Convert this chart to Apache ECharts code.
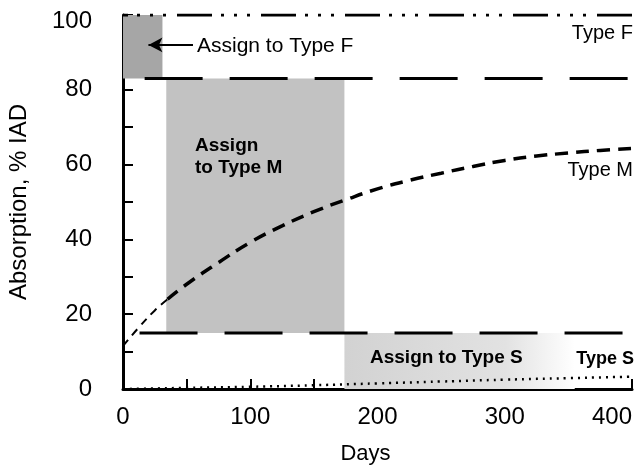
<!DOCTYPE html>
<html>
<head>
<meta charset="utf-8">
<script src="https://cdn.jsdelivr.net/npm/echarts@6/dist/echarts.min.js"></script>
<style>
    html, body { margin: 0; padding: 0; background: #ffffff; }
    #chart { width: 637px; height: 467px; }
</style>
</head>
<body>
<div id="chart"></div>
<script>
// values
var xTicks = [0, 100, 200, 300, 400];
var yTicks = [0, 20, 40, 60, 80, 100];

var typeMDays = [0, 12, 25, 35, 50, 75, 100, 125, 150, 175, 200, 225, 250, 275, 300, 325, 350, 375, 400];
var typeMValues = [11.5, 16.3, 21, 24, 28, 33.8, 39.2, 43.6, 47.4, 50.6, 53.5, 55.8, 57.7, 59.5, 61.1, 62.3, 63.1, 63.8, 64.3];
var typeMThinEnd = 35;

var typeSDays = [0, 50, 100, 150, 200, 250, 300, 350, 400];
var typeSValues = [0, 0.3, 0.6, 1.0, 1.5, 2.0, 2.5, 2.9, 3.3];

var typeFLevel = 100;
var upperBoundary = 83;
var upperBoundaryStart = 17;
var lowerBoundary = 15;
var lowerBoundaryStart = 13;

// shaded "assign to" zones: [x0, x1, y0, y1]
var zoneF = [0, 31, 83, 100];
var zoneM = [34, 174, 15, 83];
var zoneS = [174, 355, 0, 15];

var arrowFrom = [55, 92];
var arrowTo = [20, 92];

(function () {
    'use strict';

    var FONT = '"Liberation Sans", Arial, Helvetica, sans-serif';
    var chart = echarts.init(document.getElementById('chart'), null, { renderer: 'canvas' });

    function pairs(xs, ys, filter) {
        var out = [];
        for (var i = 0; i < xs.length; i++) {
            if (!filter || filter(xs[i])) {
                out.push([xs[i], ys[i]]);
            }
        }
        return out;
    }

    function area(zone, color) {
        return [
            { xAxis: zone[0], yAxis: zone[2], itemStyle: { color: color } },
            { xAxis: zone[1], yAxis: zone[3] }
        ];
    }

    function text(x, y, str, align, bold, size) {
        return {
            type: 'text',
            x: x,
            y: y,
            z: 100,
            style: {
                text: str,
                font: (bold ? 'bold ' : '') + size + 'px ' + FONT,
                fill: '#000',
                textAlign: align,
                textVerticalAlign: 'middle'
            }
        };
    }

    var fadeS = {
        type: 'linear', x: 0, y: 0, x2: 1, y2: 0,
        colorStops: [
            { offset: 0, color: '#d2d2d2' },
            { offset: 0.7, color: '#e2e2e2' },
            { offset: 1, color: '#ffffff' }
        ]
    };

    chart.setOption({
        animation: false,
        grid: { left: 123, right: 5, top: 15, bottom: 78, containLabel: false, outerBoundsMode: 'none' },
        xAxis: {
            type: 'value',
            min: 0,
            max: 400,
            interval: 50,
            name: 'Days',
            nameLocation: 'middle',
            nameGap: 54,
            nameTextStyle: { fontFamily: FONT, fontSize: 22, color: '#000', padding: [0, 24, 0, 0] },
            axisLine: { show: true, onZero: false, lineStyle: { color: '#000', width: 3 } },
            axisTick: { show: true, inside: true, length: 10, lineStyle: { color: '#000', width: 2 } },
            splitLine: { show: false },
            axisLabel: {
                margin: 16,
                fontFamily: FONT,
                fontSize: 24,
                color: '#000',
                alignMaxLabel: 'right',
                formatter: function (v) {
                    return xTicks.indexOf(v) >= 0 ? String(v) : '';
                }
            }
        },
        yAxis: {
            type: 'value',
            min: 0,
            max: 100,
            interval: 10,
            name: 'Absorption, % IAD',
            nameLocation: 'middle',
            nameGap: 92,
            nameTextStyle: { fontFamily: FONT, fontSize: 24, color: '#000' },
            axisLine: { show: true, onZero: false, lineStyle: { color: '#000', width: 3 } },
            axisTick: { show: true, inside: true, length: 10, lineStyle: { color: '#000', width: 2 } },
            splitLine: { show: false },
            axisLabel: {
                margin: 31,
                fontFamily: FONT,
                fontSize: 24,
                color: '#000',
                formatter: function (v) {
                    if (yTicks.indexOf(v) < 0) {
                        return '';
                    }
                    return v === 100 ? '{top|100}' : String(v);
                },
                rich: {
                    top: { fontFamily: FONT, fontSize: 24, color: '#000', padding: [12, 0, 0, 0] }
                }
            }
        },
        series: [
            {
                type: 'line',
                name: 'zones',
                data: [],
                silent: true,
                markArea: {
                    silent: true,
                    data: [
                        area(zoneF, '#a6a6a6'),
                        area(zoneM, '#c2c2c2'),
                        area(zoneS, fadeS)
                    ]
                },
                markLine: {
                    silent: true,
                    symbol: ['none', 'arrow'],
                    symbolSize: [11, 14],
                    label: { show: false },
                    lineStyle: { color: '#000', width: 2, type: 'solid' },
                    data: [[{ coord: arrowFrom }, { coord: arrowTo }]]
                }
            },
            {
                type: 'line',
                name: 'Type F',
                data: [[0, typeFLevel], [400, typeFLevel]],
                showSymbol: false,
                lineStyle: { color: '#000', width: 3, type: [35, 9, 3, 10, 3, 10, 3, 11], dashOffset: 30 }
            },
            {
                type: 'line',
                name: 'F/M boundary',
                data: [[upperBoundaryStart, upperBoundary], [400, upperBoundary]],
                showSymbol: false,
                lineStyle: { color: '#000', width: 3, type: [58, 27] }
            },
            {
                type: 'line',
                name: 'M/S boundary',
                data: [[lowerBoundaryStart, lowerBoundary], [400, lowerBoundary]],
                showSymbol: false,
                lineStyle: { color: '#000', width: 3, type: [58, 27] }
            },
            {
                type: 'line',
                name: 'Type M (early)',
                data: pairs(typeMDays, typeMValues, function (d) { return d <= typeMThinEnd; }),
                showSymbol: false,
                smooth: true,
                lineStyle: { color: '#000', width: 2, type: [8, 6] }
            },
            {
                type: 'line',
                name: 'Type M',
                data: pairs(typeMDays, typeMValues, function (d) { return d >= typeMThinEnd; }),
                showSymbol: false,
                smooth: true,
                lineStyle: { color: '#000', width: 3.5, type: [13, 8] }
            },
            {
                type: 'line',
                name: 'Type S',
                data: pairs(typeSDays, typeSValues),
                showSymbol: false,
                smooth: true,
                lineStyle: { color: '#000', width: 2.5, type: [2, 5] }
            }
        ],
        graphic: [
            text(197, 46, 'Assign to Type F', 'left', false, 21),
            text(633, 33, 'Type F', 'right', false, 20),
            text(195, 146, 'Assign', 'left', true, 19),
            text(195, 168, 'to Type M', 'left', true, 19),
            text(633, 170, 'Type M', 'right', false, 20),
            text(370, 358, 'Assign to Type S', 'left', true, 19),
            text(634, 359, 'Type S', 'right', true, 18)
        ]
    });
})();
</script>
</body>
</html>
